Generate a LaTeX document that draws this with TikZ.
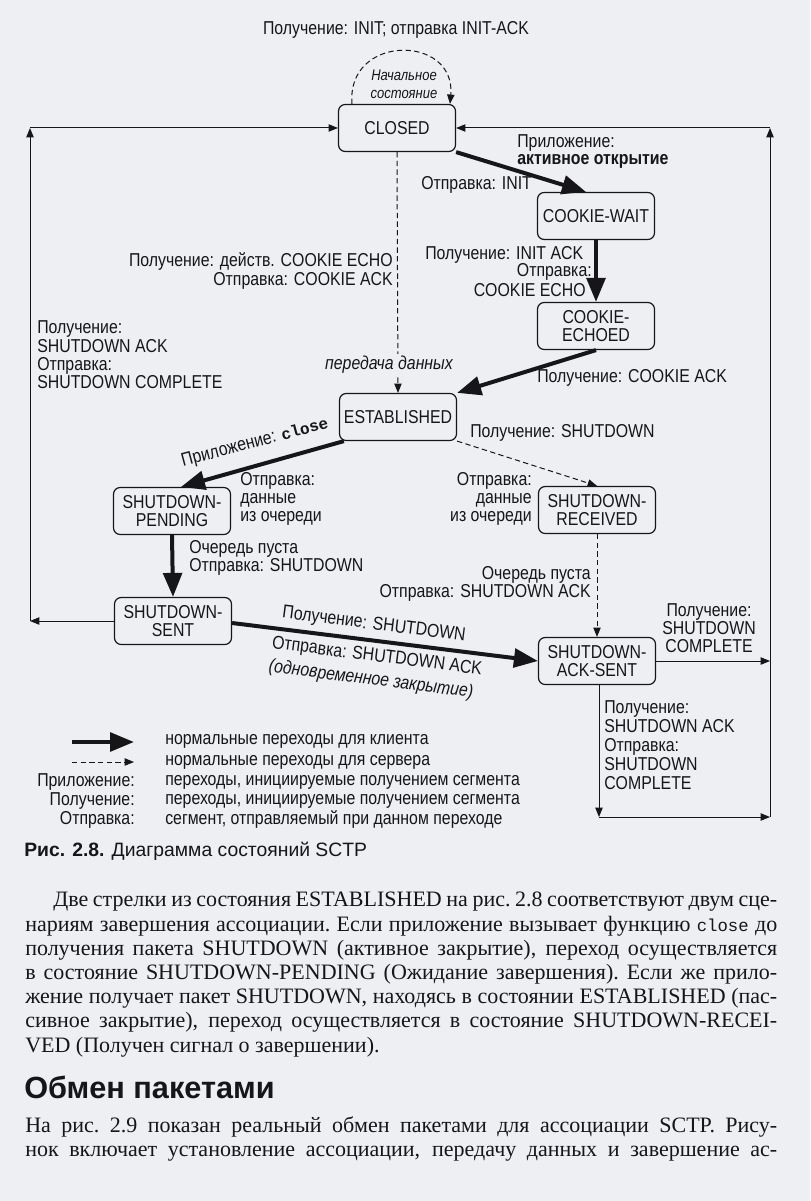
\documentclass[tikz,border=0pt]{standalone}
\usepackage{fontspec}
\setmainfont{Liberation Serif}
\setsansfont{Liberation Sans}
\setmonofont{Liberation Mono}
\newfontfamily\condsans[FakeStretch=0.85]{Liberation Sans}
\usetikzlibrary{arrows.meta,calc}
\definecolor{pagebg}{RGB}{238,239,243}
\definecolor{ink}{RGB}{22,22,24}
\newcommand\jline[2]{\hbox to #1{\spaceskip=0.25em plus 2em minus 0.1em\xspaceskip=\spaceskip #2}}
\tikzset{
  state/.style={draw=ink, line width=0.9pt, rounded corners=5pt, minimum width=87.75pt,
    minimum height=35.25pt, align=center, inner sep=0pt, text=ink,
    font=\condsans\fontsize{14}{13.75}\selectfont},
  lbl/.style={inner sep=0pt, text=ink, font=\condsans\fontsize{14}{13.75}\selectfont},
  ilbl/.style={inner sep=0pt, text=ink, font=\condsans\itshape\fontsize{14}{13.75}\selectfont},
  cli/.style={draw=ink, line width=3pt, -{Triangle[length=18pt,width=14pt]}},
  srv/.style={draw=ink, line width=0.75pt, dash pattern=on 4pt off 2.5pt, -{Triangle[length=7pt,width=5.5pt]}},
  thinarrow/.style={draw=ink, line width=0.75pt, -{Triangle[length=7pt,width=5.5pt]}},
  body/.style={inner sep=0pt, text=ink, font=\rmfamily\fontsize{16.5}{18.2}\selectfont},
}
\begin{document}
\begin{tikzpicture}[x=0.75pt,y=-0.75pt]
\fill[pagebg] (0,0) rectangle (810,1201);
\useasboundingbox (0,0) rectangle (810,1201);

% states
\node[state] (closed) at (397,128) {CLOSED};
\node[state] (cw) at (596,216) {COOKIE-WAIT};
\node[state] (ce) at (596,326) {COOKIE-\\ECHOED};
\node[state] (est) at (398,417) {ESTABLISHED};
\node[state] (sp) at (172,511) {SHUTDOWN-\\PENDING};
\node[state] (sr) at (597,510) {SHUTDOWN-\\RECEIVED};
\node[state] (ss) at (173,621) {SHUTDOWN-\\SENT};
\node[state] (sas) at (597,661) {SHUTDOWN-\\ACK-SENT};

% corner coordinates
\coordinate (lb) at (30,621);
\coordinate (lt) at (30,128);
\coordinate (rm) at (770,661);
\coordinate (bb) at (599,817);
\coordinate (rb) at (770,817);
\coordinate (rt) at (770,128);

% thin loops
\draw[thinarrow] (ss.west) -- (lb);
\draw[thinarrow] (lb) -- (lt);
\draw[thinarrow] (lt) -- (closed.west);
\draw[thinarrow] (sas.east) -- (rm);
\draw[thinarrow] ($(sas.south)+(2,0)$) -- (bb);
\draw[thinarrow] (bb) -- (rb);
\draw[thinarrow] (rb) -- (rt);
\draw[thinarrow] (rt) -- (closed.east);

% client transitions
\draw[cli] (closed.south east) -- ($(cw.north)+(-10,0)$);
\draw[cli] (cw.south) -- (ce.north);
\draw[cli] (ce.south) -- (est.north east);
\draw[cli] ($(est.south west)+(5,0)$) -- ($(sp.north)+(9,0)$);
\draw[cli] (sp.south) -- (ss.north);
\draw[cli] ($(ss.east)+(0,2)$) -- (sas.west);

% server transitions
\draw[srv] ($(closed.north)+(-45,0)$) .. controls ($(closed.north)+(-51,-70)$) and ($(closed.north)+(59,-70)$) .. ($(closed.north)+(53,0)$);
\draw[srv] (closed.south) -- (est.north);
\draw[srv] (est.south east) -- (sr.north);
\draw[srv] (sr.south) -- (sas.north);

% labels
\node[lbl] (t0) at (396,30) {Получение: INIT; отправка INIT-ACK};
\node[ilbl, align=center, font=\condsans\itshape\fontsize{11.5}{13.5}\selectfont] (t1) at (404,84) {Начальное\\состояние};
\node[lbl, anchor=west, align=left, font=\condsans\fontsize{14}{12.75}\selectfont] (t2) at (517,152) {Приложение:\\\textbf{активное открытие}};
\node[lbl, anchor=west] (t3) at (421,185) {Отправка: INIT};
\node[lbl, anchor=east, align=right] (t4) at (393,271) {Получение: действ. COOKIE ECHO\\Отправка: COOKIE ACK};
\node[lbl, anchor=west] (t5) at (425,255) {Получение: INIT ACK};
\node[lbl, anchor=east] (t6) at (592,272) {Отправка:};
\node[lbl, anchor=east] (t7) at (586,290) {COOKIE ECHO};
\node[lbl, anchor=west, align=left] (t8) at (37,355) {Получение:\\SHUTDOWN ACK\\Отправка:\\SHUTDOWN COMPLETE};
\node[ilbl, fill=pagebg, inner sep=1.5pt] (t9) at (389,365) {передача данных};
\node[lbl, anchor=west] (t10) at (537,378) {Получение: COOKIE ACK};
\node[lbl, anchor=west] (t11) at (470,433) {Получение: SHUTDOWN};
\node[lbl, rotate=15] (t12) at (255,443) {Приложение: {\ttfamily\bfseries\fontsize{12}{12}\selectfont close}};
\node[lbl, anchor=west, align=left] (t13) at (240,499) {Отправка:\\данные\\из очереди};
\node[lbl, anchor=east, align=right] (t14) at (532,499) {Отправка:\\данные\\из очереди};
\node[lbl, anchor=west, align=left] (t15) at (189,558) {Очередь пуста\\Отправка: SHUTDOWN};
\node[lbl, anchor=east, align=right] (t16) at (591,584) {Очередь пуста\\Отправка: SHUTDOWN ACK};
\node[lbl, align=center] (t17) at (709,628) {Получение:\\SHUTDOWN\\COMPLETE};
\node[lbl, rotate=-7.2] (t18) at (374,625) {Получение: SHUTDOWN};
\node[lbl, rotate=-7.2] (t19) at (377,657) {Отправка: SHUTDOWN ACK};
\node[ilbl, rotate=-7.2] (t20) at (371,680) {(одновременное закрытие)};
\node[lbl, anchor=west, align=left, font=\condsans\fontsize{14}{14.25}\selectfont] (t21) at (604,745) {Получение:\\SHUTDOWN ACK\\Отправка:\\SHUTDOWN\\COMPLETE};

% legend
\coordinate (lg1a) at (72,742);
\coordinate (lg1b) at (134,742);
\coordinate (lg2a) at (72,762);
\coordinate (lg2b) at (134,762);
\draw[cli] (lg1a) -- (lg1b);
\draw[srv] (lg2a) -- (lg2b);
\node[lbl, anchor=west] (g1) at (165,741) {нормальные переходы для клиента};
\node[lbl, anchor=west] (g2) at (165,762) {нормальные переходы для сервера};
\node[lbl, anchor=east] (g3) at (135,782) {Приложение:};
\node[lbl, anchor=west] (g4) at (165,782) {переходы, инициируемые получением сегмента};
\node[lbl, anchor=east] (g5) at (135,801) {Получение:};
\node[lbl, anchor=west] (g6) at (165,801) {переходы, инициируемые получением сегмента};
\node[lbl, anchor=east] (g7) at (135,820) {Отправка:};
\node[lbl, anchor=west] (g8) at (165,820) {сегмент, отправляемый при данном переходе};

% caption
\node[lbl, anchor=west, font=\sffamily\fontsize{14.5}{16}\selectfont] (cap) at (24,851) {\textbf{Рис. 2.8.} Диаграмма состояний SCTP};

% body text
\node[body, anchor=base west] (p1) at (53,906) {\jline{543pt}{Две стрелки из состояния ESTABLISHED на рис. 2.8 соответствуют двум сце-}};
\node[body, anchor=base west] (p2) at (25,931) {\jline{564pt}{нариям завершения ассоциации. Если приложение вызывает функцию {\ttfamily\fontsize{13}{13}\selectfont close} до}};
\node[body, anchor=base west] (p3) at (25,955) {\jline{564pt}{получения пакета SHUTDOWN (активное закрытие), переход осуществляется}};
\node[body, anchor=base west] (p4) at (25,979) {\jline{564pt}{в состояние SHUTDOWN-PENDING (Ожидание завершения). Если же прило-}};
\node[body, anchor=base west] (p5) at (25,1003) {\jline{564pt}{жение получает пакет SHUTDOWN, находясь в состоянии ESTABLISHED (пас-}};
\node[body, anchor=base west] (p6) at (25,1027) {\jline{564pt}{сивное закрытие), переход осуществляется в состояние SHUTDOWN-RECEI-}};
\node[body, anchor=base west] (p7) at (25,1052) {VED (Получен сигнал о завершении).};
\node[lbl, anchor=west, font=\sffamily\bfseries\fontsize{23}{23}\selectfont] (h1) at (24,1087) {Обмен пакетами};
\node[body, anchor=base west] (p8) at (25,1132) {\jline{564pt}{На рис. 2.9 показан реальный обмен пакетами для ассоциации SCTP. Рису-}};
\node[body, anchor=base west] (p9) at (25,1156) {\jline{564pt}{нок включает установление ассоциации, передачу данных и завершение ас-}};
\end{tikzpicture}
\end{document}
